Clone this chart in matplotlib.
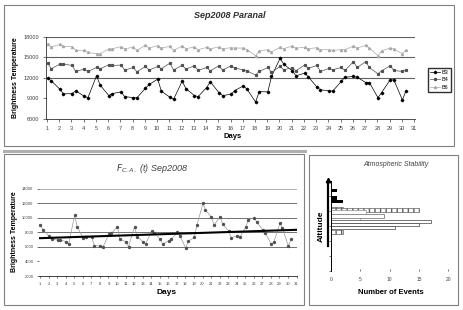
import matplotlib
matplotlib.use("Agg")
import matplotlib.pyplot as plt
from matplotlib.patches import Rectangle
from matplotlib.lines import Line2D

plt.rcParams['font.family'] = ['Liberation Sans', 'DejaVu Sans']

# ---------------- data ----------------
# sample times (two per day) used by both time series
days = [1.05, 1.35, 2.05, 2.35, 3.05, 3.35, 4.05, 4.35, 5.05, 5.35,
        6.05, 6.35, 7.05, 7.35, 8.05, 8.35, 9.05, 9.35, 10.05, 10.35,
        11.05, 11.35, 12.05, 12.35, 13.05, 13.35, 14.05, 14.35, 15.05, 15.35,
        16.05, 16.35, 17.05, 17.35, 18.05, 18.35, 19.05, 19.35, 20.05, 20.35,
        21.05, 21.35, 22.05, 22.35, 23.05, 23.35, 24.05, 24.35, 25.05, 25.35,
        26.05, 26.35, 27.05, 27.35, 28.05, 28.35, 29.05, 29.35, 30.05, 30.35]

b3 = [11930, 11590, 10360, 9670, 9720, 10110, 9330, 9130, 12320, 10950,
      9430, 9720, 9970, 9280, 9130, 9090, 10510, 11050, 11830, 10070,
      9180, 8890, 11530, 10460, 9430, 9280, 10600, 11440, 9870, 9430,
      9620, 10160, 10850, 10360, 8500, 10000, 9970, 12220, 14870, 14030,
      13050, 12320, 12700, 12200, 10700, 10260, 10150, 10070, 11490, 12120,
      12220, 12120, 11340, 11340, 9130, 9870, 11730, 11730, 8790, 10160]

b4 = [14180, 13350, 14030, 14030, 13840, 12960, 13300, 12960, 13540, 13350,
      13930, 13840, 13890, 13150, 13540, 12910, 13690, 13150, 13690, 13350,
      14180, 13150, 13890, 13300, 13790, 13100, 13540, 13050, 13790, 13150,
      13790, 13450, 13200, 13050, 12420, 12960, 13540, 12810, 13690, 13200,
      13500, 13050, 13890, 13400, 13840, 12960, 13400, 13200, 13540, 13100,
      14380, 13540, 14380, 13540, 12610, 13050, 13790, 13100, 12960, 13200]

b6 = [17020, 16530, 16920, 16630, 16580, 16040, 16040, 15750, 15550, 15550,
      16240, 16290, 16580, 16290, 16480, 16040, 16780, 16380, 16730, 16380,
      16630, 16040, 16680, 16290, 16530, 16140, 16480, 16290, 16530, 16290,
      16430, 16380, 16380, 16140, 15260, 15990, 16140, 15800, 16480, 16290,
      16680, 16380, 16480, 16290, 16430, 16140, 16140, 16040, 16140, 16140,
      16680, 16380, 16780, 16380, 15260, 15990, 16380, 16240, 15550, 16140]

fca = [9010, 8320, 7500, 7040, 6950, 6950, 6720, 6400, 10340, 8780,
       7180, 7300, 7300, 6170, 6120, 5940, 7730, 7860, 8780, 7040,
       6720, 6030, 8780, 7400, 6720, 6400, 8180, 7950, 7040, 6400,
       6860, 7040, 8000, 7500, 5850, 6800, 7310, 9010, 11980, 11070,
       10060, 9010, 10150, 9150, 8180, 7270, 7500, 7310, 8690, 9700,
       10020, 9400, 8320, 7900, 6350, 6700, 9240, 8550, 6120, 7040]

trend_days = [1, 31]
trend_vals = [7200, 8350]

day_ticks = list(range(1, 32))
top_yticks = [6000, 9000, 12000, 15000, 18000]
top_grid = [12000, 15000, 18000]
fca_yticks = [2000, 4000, 6000, 8000, 10000, 12000, 14000]
fca_grid = [6000, 8000, 10000, 12000]

# atmospheric stability histogram (altitude level -> number of events)
alt_level = [21.4, 19.5, 18.5, 16.6, 16.2, 15.7, 14.55, 13.9, 13.2, 12.4, 11.5, 10.4]
events = [1, 1, 2, 2, 15, 6, 9, 5, 17, 15, 11, 2]
event_kind = ['solid', 'solid', 'solid', 'hatch', 'hatch', 'thin', 'grey',
              'thin', 'open', 'open', 'open', 'hatch']

# ---------------- figure ----------------
W, H = 463, 310
fig = plt.figure(figsize=(W / 100, H / 100), dpi=100)


def fx(x):
    return x / W


def fy(y):
    return 1 - y / H


def box(x0, y0, x1, y1, **kw):
    fig.patches.append(Rectangle((fx(x0), fy(y1)), (x1 - x0) / W, (y1 - y0) / H,
                                 transform=fig.transFigure, fill=False, **kw))


# panel frames
box(4, 5, 454, 146, edgecolor='#808080', lw=0.8)
fig.add_artist(Line2D([fx(4), fx(305)], [fy(150.5), fy(150.5)], transform=fig.transFigure,
                      color='#b0b0b0', lw=2.2))
box(4, 154, 304, 305, edgecolor='#808080', lw=0.8)
box(309, 155, 458, 305, edgecolor='#808080', lw=0.8)

tick_col = '#404040'

# ---------------- top panel ----------------
ax1 = fig.add_axes([fx(46), fy(119), (415 - 46) / W, (119 - 37) / H])
for v in top_grid:
    ax1.axhline(v, color='#606060', lw=0.8, zorder=0)
ax1.plot(days, b3, color='black', lw=0.5, marker='D', ms=1.3, label='B3')
ax1.plot(days, b4, color='#505050', lw=0.5, marker='s', ms=1.3, label='B4')
ax1.plot(days, b6, color='#a8a8a8', lw=0.5, marker='^', ms=1.5, label='B6')
ax1.set_xlim(0.92, 31.08)
ax1.set_ylim(6000, 18000)
ax1.set_xticks(day_ticks)
ax1.set_yticks(top_yticks)
ax1.tick_params(labelsize=4, colors=tick_col, length=2, width=0.5, pad=3)
for s in ['top', 'right']:
    ax1.spines[s].set_visible(False)
for s in ['left', 'bottom']:
    ax1.spines[s].set_linewidth(0.6)
    ax1.spines[s].set_color('#303030')

fig.text(fx(230), fy(15), 'Sep2008 Paranal', ha='center', va='center',
         fontsize=6.5, fontweight='bold', fontstyle='italic', color='#303030')
fig.text(fx(16), fy(78), 'Brightness Temperature', rotation=90, ha='center', va='center',
         fontsize=5, fontweight='bold')
fig.text(fx(233), fy(137), 'Days', ha='center', va='center', fontsize=5.5, fontweight='bold')

h, l = ax1.get_legend_handles_labels()
fig.legend(h, l, loc='upper left', bbox_to_anchor=(fx(425), fy(65)), fontsize=4,
           frameon=True, fancybox=False, edgecolor='#303030', framealpha=1,
           borderpad=0.35, handlelength=1.8, labelspacing=0.45, handletextpad=0.4)

# ---------------- bottom left panel ----------------
ax2 = fig.add_axes([fx(39), fy(276), (297 - 39) / W, (276 - 188.7) / H])
ax2.axhline(14000, color='#b0b0b0', lw=1.4, zorder=0)
for v in fca_grid:
    ax2.axhline(v, color='#707070', lw=0.7, zorder=0)
ax2.plot(days, fca, color='#999999', lw=0.5, marker='o', ms=1.4,
         mfc='#505050', mec='#505050')
ax2.plot(trend_days, trend_vals, color='black', lw=1.5)
ax2.set_xlim(0.88, 31.05)
ax2.set_ylim(2000, 14000)
ax2.set_xticks(day_ticks)
ax2.set_yticks(fca_yticks)
ax2.tick_params(labelsize=3, colors=tick_col, length=1.5, width=0.5, pad=2.5)
for s in ['top', 'right', 'left']:
    ax2.spines[s].set_visible(False)
ax2.spines['bottom'].set_linewidth(0.7)
ax2.spines['bottom'].set_color('#404040')

fig.text(fx(152), fy(168), r'$F_{C.A.}$ (t) Sep2008', ha='center', va='center',
         fontsize=6.5, fontstyle='italic', color='#404040')
fig.text(fx(15), fy(232), 'Brightness Temperature', rotation=90, ha='center', va='center',
         fontsize=5, fontweight='bold')
fig.text(fx(167), fy(293), 'Days', ha='center', va='center', fontsize=6, fontweight='bold')

# ---------------- bottom right panel ----------------
ax3 = fig.add_axes([fx(331), fy(271), (450 - 331) / W, (271 - 180.7) / H])
bar_h = {'solid': 1.0, 'hatch': 1.05, 'thin': 1.0, 'grey': 1.05, 'open': 0.7}
for lev, n, kind in zip(alt_level, events, event_kind):
    if kind == 'solid':
        ax3.barh(lev, n, height=bar_h[kind], color='black', lw=0)
    elif kind == 'hatch':
        ax3.barh(lev, n, height=bar_h[kind], color='white', edgecolor='#606060',
                 hatch='|||', lw=0.5)
    elif kind == 'thin':
        ax3.barh(lev, n, height=bar_h[kind], color='white', edgecolor='#909090',
                 lw=0.5, zorder=1)
    elif kind == 'grey':
        ax3.barh(lev, n, height=bar_h[kind], color='white', edgecolor='#909090',
                 lw=0.7, zorder=2)
    else:
        ax3.barh(lev, n, height=bar_h[kind], color='white', edgecolor='#404040',
                 lw=0.5, zorder=2)
ax3.set_xlim(0, 20.3)
ax3.set_ylim(0, 24)
ax3.set_xticks([0, 5, 10, 15, 20])
ax3.set_yticks([0, 4, 8, 12, 16, 20, 24])
ax3.set_yticklabels([])
ax3.tick_params(axis='x', labelsize=3.5, colors=tick_col, length=1.5, width=0.5,
                direction='in', pad=4)
ax3.tick_params(axis='y', length=1.5, width=0.5, colors=tick_col)
for s in ['top', 'right', 'bottom']:
    ax3.spines[s].set_visible(False)
ax3.spines['left'].set_linewidth(0.7)

fig.text(fx(396), fy(165), 'Atmospheric Stability', ha='center', va='center',
         fontsize=5, fontstyle='italic', color='#404040')
fig.text(fx(391), fy(292), 'Number of Events', ha='center', va='center',
         fontsize=5.5, fontweight='bold')
fig.text(fx(321), fy(226), 'Altitude', rotation=90, ha='center', va='center',
         fontsize=6, fontweight='bold')
fig.add_artist(Line2D([fx(327.5), fx(327.5)], [fy(246), fy(182)], transform=fig.transFigure,
                      color='black', lw=1.6))
fig.add_artist(Line2D([fx(327.5)], [fy(180)], transform=fig.transFigure,
                      color='black', marker='^', ms=3.2, lw=0))

fig.savefig('out.png', dpi=100)
